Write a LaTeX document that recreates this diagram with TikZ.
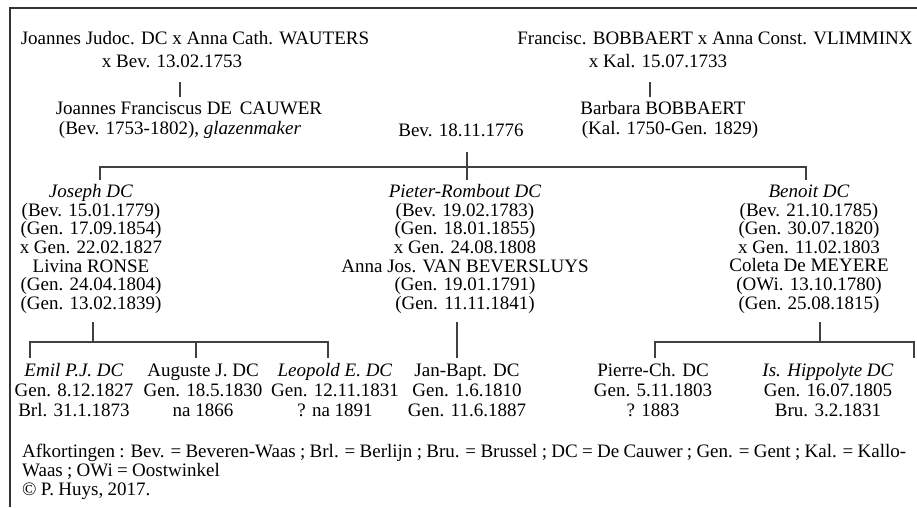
\documentclass[tikz,border=0pt]{standalone}
\usepackage{fontspec}
\setmainfont{Liberation Serif}
\newcommand{\legendspace}{\spaceskip=4.3pt\relax}
\begin{document}
\begin{tikzpicture}[x=1pt,y=-1pt,
    person/.style={inner sep=0pt,align=center,font=\fontsize{19}{18.6}\selectfont},
    kid/.style={inner sep=0pt,align=center,font=\fontsize{19}{20}\selectfont},
    conn/.style={line width=1.2pt,draw=black!75}]
      \useasboundingbox (0,0) rectangle (917,507);
      \draw[line width=1.5pt,black!80] (10,507) -- (10,8) -- (917,8);
      \node[person](parL) at (195,38){Joannes Judoc. DC x Anna Cath. WAUTERS};
      \node[person](marL) at (172,61){x Bev. 13.02.1753};
      \node[person](parR) at (715,38){Francisc. BOBBAERT x Anna Const. VLIMMINX};
      \node[person](marR) at (658,61){x Kal. 15.07.1733};
      \node[person](jf) at (189,108){Joannes Franciscus DE\hspace{3pt} CAUWER};
      \node[person](jfd) at (180,130){(Bev. 1753-1802), \textit{glazenmaker}};
      \node[person](bb) at (663,108){Barbara BOBBAERT};
      \node[person](bbd) at (670,130){(Kal. 1750-Gen. 1829)};
      \node[person](wed) at (461,130){Bev. 18.11.1776};
      \node[person](joseph) at (91,249){\textit{Joseph DC}\\(Bev. 15.01.1779)\\(Gen. 17.09.1854)\\x Gen. 22.02.1827\\Livina RONSE\\(Gen. 24.04.1804)\\(Gen. 13.02.1839)};
      \node[person](pieter) at (465,249){\textit{Pieter-Rombout DC}\\(Bev. 19.02.1783)\\(Gen. 18.01.1855)\\x Gen. 24.08.1808\\Anna Jos. VAN BEVERSLUYS\\(Gen. 19.01.1791)\\(Gen. 11.11.1841)};
      \node[person](benoit) at (809,249){\textit{Benoit DC}\\(Bev. 21.10.1785)\\(Gen. 30.07.1820)\\x Gen. 11.02.1803\\Coleta De MEYERE\\(OWi. 13.10.1780)\\(Gen. 25.08.1815)};
      \node[kid](emil) at (74,390){\textit{Emil P.J. DC}\\Gen. 8.12.1827\\Brl. 31.1.1873};
      \node[kid](auguste) at (203,390){Auguste J. DC\\Gen. 18.5.1830\\na 1866};
      \node[kid](leopold) at (335,390){\textit{Leopold E. DC}\\Gen. 12.11.1831\\? na 1891};
      \node[kid](janbapt) at (467,390){Jan-Bapt. DC\\Gen. 1.6.1810\\Gen. 11.6.1887};
      \node[kid](pierre) at (653,390){Pierre-Ch. DC\\Gen. 5.11.1803\\? 1883};
      \node[kid](hippolyte) at (828,390){\textit{Is. Hippolyte DC}\\Gen. 16.07.1805\\Bru. 3.2.1831};
      \node[inner sep=0pt,align=left,anchor=west,font=\fontsize{19}{19}\selectfont\legendspace](legend) at (22,472){Afkortingen : Bev. = Beveren-Waas ; Brl. = Berlijn ; Bru. = Brussel ; DC = De Cauwer ; Gen. = Gent ; Kal. = Kallo-\\Waas ; OWi = Oostwinkel\\© P. Huys, 2017.};
      \coordinate (barLt) at (180,82);
      \coordinate (barLb) at (180,97);
      \coordinate (barRt) at (650,82);
      \coordinate (barRb) at (650,97);
      \coordinate (wedB) at (467,152);
      \coordinate (hubT) at (467,167);
      \coordinate (tJ) at (100,180);
      \coordinate (tP) at (467,180);
      \coordinate (tB) at (806,180);
      \coordinate (jB) at (93,322);
      \coordinate (jH) at (93,342);
      \coordinate (kE) at (30,358);
      \coordinate (kA) at (196,358);
      \coordinate (kL) at (328,358);
      \coordinate (pB) at (457,322);
      \coordinate (kJ) at (457,358);
      \coordinate (bB) at (820,322);
      \coordinate (bH) at (820,342);
      \coordinate (kP) at (655,358);
      \coordinate (kH) at (914,358);
      \draw[conn] (barLt) -- (barLb);
      \draw[conn] (barRt) -- (barRb);
      \draw[conn] (wedB) -- (tP);
      \draw[conn] (tJ) |- (hubT) -| (tB);
      \draw[conn] (jB) -- (jH);
      \draw[conn] (kE) |- (jH) -| (kL);
      \draw[conn] (kA) -- (kA |- jH);
      \draw[conn] (pB) -- (kJ);
      \draw[conn] (bB) -- (bH);
      \draw[conn] (kP) |- (bH) -| (kH);
    \end{tikzpicture}
\end{document}
